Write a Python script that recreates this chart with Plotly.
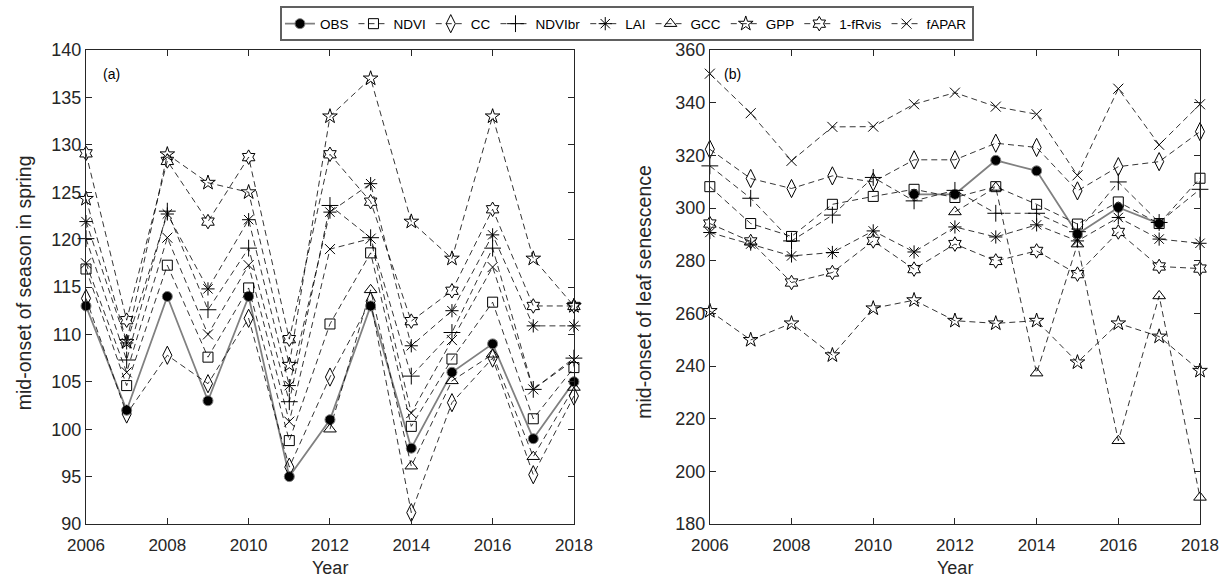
import plotly.graph_objects as go

years = list(range(2006, 2019))

# (a) mid-onset of season in spring
obs_a = [113, 102, 114, 103, 114, 95, 101, 113, 98, 106, 109, 99, 105]
ndvi_a = [116.9, 104.6, 117.3, 107.6, 114.9, 98.8, 111.1, 118.6, 100.3, 107.4, 113.4, 101.1, 106.5]
cc_a = [113.8, 101.6, 107.8, 104.8, 111.7, 96.0, 105.5, 113.5, 91.2, 102.8, 107.5, 95.2, 103.5]
ndvibr_a = [120.1, 107.3, 123.0, 112.6, 119.1, 102.9, 123.6, 120.2, 105.6, 110.2, 119.1, 104.2, 107.5]
lai_a = [121.9, 109.1, 122.7, 114.8, 122.1, 104.6, 122.9, 125.9, 108.8, 112.5, 120.5, 110.9, 110.9]
gcc_a = [None, None, None, None, None, None, 100.0, 114.7, 96.1, 105.1, 107.9, 97.1, 104.4]
gpp_a = [124.3, 109.2, 129.0, 126.0, 125.0, 106.8, 133.0, 137.0, 121.9, 118.0, 133.0, 118.0, 113.0]
frvis_a = [129.1, 111.5, 128.3, 121.9, 128.7, 109.5, 129.0, 124.0, 111.4, 114.6, 123.2, 113.0, 113.0]
fapar_a = [117.5, 106.0, 120.2, 110.0, 117.3, 100.8, 119.0, 120.1, 101.7, 109.4, 117.1, 104.2, 107.3]

# (b) mid-onset of leaf senescence
obs_b = [None, None, None, None, None, 305.2, 305.2, 318.1, 314.1, 290.1, 300.2, 294.1, None]
ndvi_b = [308.1, 294.1, 289.2, 301.4, 304.4, 307.1, 304.0, 308.1, 301.4, 293.9, 302.3, 294.1, 311.3]
cc_b = [322.3, 311.2, 307.4, 312.2, 309.9, 318.3, 318.3, 324.6, 323.0, 306.5, 315.7, 317.6, 329.0]
ndvibr_b = [316.0, 303.7, 287.5, 297.3, 311.6, 302.7, 306.7, 298.0, 298.0, 291.0, 309.9, 294.5, 307.1]
lai_b = [290.7, 286.3, 281.8, 283.1, 291.3, 283.3, 292.8, 289.0, 293.6, 287.5, 296.4, 288.2, 286.6]
gcc_b = [None, None, None, None, None, None, 298.5, 307.8, 237.3, 286.3, 211.6, 266.6, 190.1]
gpp_b = [260.9, 249.9, 256.2, 244.1, 261.9, 265.0, 257.2, 256.2, 257.2, 241.4, 256.2, 251.2, 238.2]
frvis_b = [294.1, 287.3, 271.7, 275.5, 287.5, 276.8, 286.3, 279.9, 283.7, 274.9, 290.9, 277.8, 277.0]
fapar_b = [351.0, 336.0, 317.9, 330.8, 330.9, 339.4, 343.8, 338.5, 335.6, 312.4, 345.3, 324.0, 339.4]

names = ["OBS", "NDVI", "CC", "NDVIbr", "LAI", "GCC", "GPP", "1-fRvis", "fAPAR"]
series_a = [obs_a, ndvi_a, cc_a, ndvibr_a, lai_a, gcc_a, gpp_a, frvis_a, fapar_a]
series_b = [obs_b, ndvi_b, cc_b, ndvibr_b, lai_b, gcc_b, gpp_b, frvis_b, fapar_b]
symbols = ["circle", "square-open", "diamond-tall-open", "cross-thin-open", "asterisk-open",
           "triangle-up-open", "star-open", "hexagram-open", "x-thin-open"]
sizes = [10, 10, 13, 12, 11, 11, 11, 11, 10]

FONT = "Liberation Sans, Arial, sans-serif"
INK = "#262626"

fig = go.Figure()
for k, (name, sa, sb) in enumerate(zip(names, series_a, series_b)):
    if k == 0:
        line = dict(color="#808080", width=1.8, dash="solid")
        marker = dict(symbol="circle", size=sizes[k], color="black",
                      line=dict(color="#808080", width=1))
    else:
        line = dict(color="black", width=0.8, dash="6px,4px")
        marker = dict(symbol=symbols[k], size=sizes[k], color="black",
                      line=dict(color="black", width=1))
    for j, (ys, xa, ya) in enumerate([(sa, "x", "y"), (sb, "x2", "y2")]):
        fig.add_trace(go.Scatter(
            x=years, y=ys, name=name, mode="lines+markers",
            line=line, marker=marker, xaxis=xa, yaxis=ya,
            showlegend=(j == 0), legendgroup=name, cliponaxis=False,
            connectgaps=False))

axis_common = dict(showline=True, linecolor=INK, linewidth=1, mirror="ticks",
                   ticks="inside", ticklen=6, tickcolor=INK, showgrid=False,
                   zeroline=False, automargin=False)
xfont = dict(family=FONT, size=17, color=INK)
yfont = dict(family=FONT, size=18, color=INK)

fig.update_layout(
    width=1232, height=580,
    margin=dict(l=86, r=32, t=50, b=56, autoexpand=False),
    paper_bgcolor="white", plot_bgcolor="white",
    font=dict(family=FONT, color=INK),
    xaxis=dict(domain=[0, 0.438], range=[2006, 2018], tickvals=list(range(2006, 2019, 2)),
               tickfont=xfont, ticklabelstandoff=6, **axis_common),
    yaxis=dict(domain=[0, 1], range=[90, 140], tickvals=list(range(90, 141, 5)),
               tickfont=yfont, **axis_common),
    xaxis2=dict(domain=[0.560, 1], range=[2006, 2018], tickvals=list(range(2006, 2019, 2)),
                anchor="y2", tickfont=xfont, ticklabelstandoff=6, **axis_common),
    yaxis2=dict(domain=[0, 1], range=[180, 360], tickvals=list(range(180, 361, 20)),
                anchor="x2", tickfont=yfont, **axis_common),
    legend=dict(orientation="h", x=0.4856, xanchor="center", y=1.092, yanchor="top",
                bordercolor="#606060", borderwidth=2, bgcolor="white",
                font=dict(family=FONT, size=13.5, color="black"),
                itemwidth=30, tracegroupgap=0),
    annotations=[
        dict(text="(a)", xref="x domain", yref="y domain", x=0.03, y=0.95,
             xanchor="left", yanchor="middle", showarrow=False,
             font=dict(family=FONT, size=14, color="black")),
        dict(text="(b)", xref="x2 domain", yref="y2 domain", x=0.025, y=0.95,
             xanchor="left", yanchor="middle", showarrow=False,
             font=dict(family=FONT, size=14, color="black")),
        dict(text="mid-onset of season in spring", xref="paper", yref="paper",
             x=-0.0557, y=0.51, xanchor="center", yanchor="middle", textangle=-90,
             showarrow=False, font=dict(family=FONT, size=19.5, color=INK)),
        dict(text="mid-onset of leaf senescence", xref="paper", yref="paper",
             x=0.5009, y=0.49, xanchor="center", yanchor="middle", textangle=-90,
             showarrow=False, font=dict(family=FONT, size=19.5, color=INK)),
        dict(text="Year", xref="x domain", yref="paper", x=0.5, y=-0.0928,
             xanchor="center", yanchor="middle", showarrow=False,
             font=dict(family=FONT, size=18, color=INK)),
        dict(text="Year", xref="x2 domain", yref="paper", x=0.5, y=-0.0928,
             xanchor="center", yanchor="middle", showarrow=False,
             font=dict(family=FONT, size=18, color=INK)),
    ],
)

# remove the default 8px page margin so the figure fills the 1232x580 window exactly
fig.write_html("out.html",
               config={"displayModeBar": False},
               post_script="document.body.style.margin='0';document.body.style.overflow='hidden';")
